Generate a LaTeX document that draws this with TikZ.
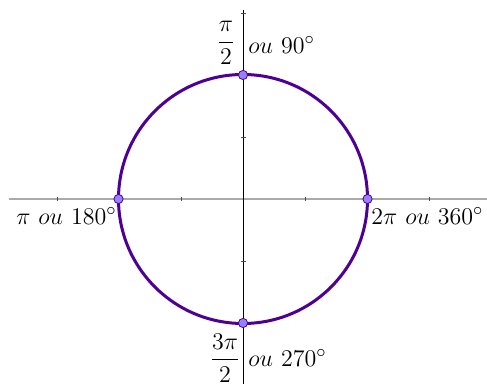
\documentclass[tikz,border=0pt]{standalone}
\usepackage{amsmath}
\definecolor{circ}{RGB}{78,0,148}
\definecolor{ptfill}{RGB}{150,128,255}
\definecolor{axgray}{RGB}{170,170,170}
\tikzset{
  axisx/.style={draw=axgray, line width=0.55pt},
  axisy/.style={draw=black, line width=0.5pt},
  tickmark/.style={draw=black!70, line width=0.45pt},
  ptnode/.style={circle, fill=ptfill, draw=circ, line width=0.4pt, inner sep=0pt, minimum size=4.6pt},
  lbl/.style={font=\fontsize{12.2}{14}\selectfont, inner sep=0pt},
}
\begin{document}
\begin{tikzpicture}[x=0.5pt, y=-0.5pt]
\useasboundingbox (0,0) rectangle (487,384);
\coordinate (xl) at (9,199);
\coordinate (xr) at (487,199);
\coordinate (yt) at (243,10);
\coordinate (yb) at (243,384);
\coordinate (O) at (243,199);
\draw[axisx] (xl) -- (xr);
\draw[axisy] (yt) -- (yb);
\foreach \tx in {57,181,305,429} {\draw[tickmark] (\tx,197.5) -- (\tx,201);}
\foreach \ty in {13,137,261} {\draw[tickmark] (241,\ty) -- (245.5,\ty);}
\draw[circ, line width=1.5pt] (O) circle [radius=62.25pt];
\node[ptnode] (p0) at (367.5,199) {};
\node[ptnode] (p90) at (243,75) {};
\node[ptnode] (p180) at (118.5,199) {};
\node[ptnode] (p270) at (243,323) {};
\node[lbl] (l90a) at (226,43) {$\dfrac{\pi}{2}$};
\node[lbl, anchor=west] (l90b) at (248,45) {$ou\ 90^\circ$};
\node[lbl, anchor=east] (l180) at (117,216) {$\pi\ ou\ 180^\circ$};
\node[lbl, anchor=west] (l0) at (371,216) {$2\pi\ ou\ 360^\circ$};
\node[lbl] (l270a) at (225,358) {$\dfrac{3\pi}{2}$};
\node[lbl, anchor=west] (l270b) at (248,358) {$ou\ 270^\circ$};
\end{tikzpicture}
\end{document}
